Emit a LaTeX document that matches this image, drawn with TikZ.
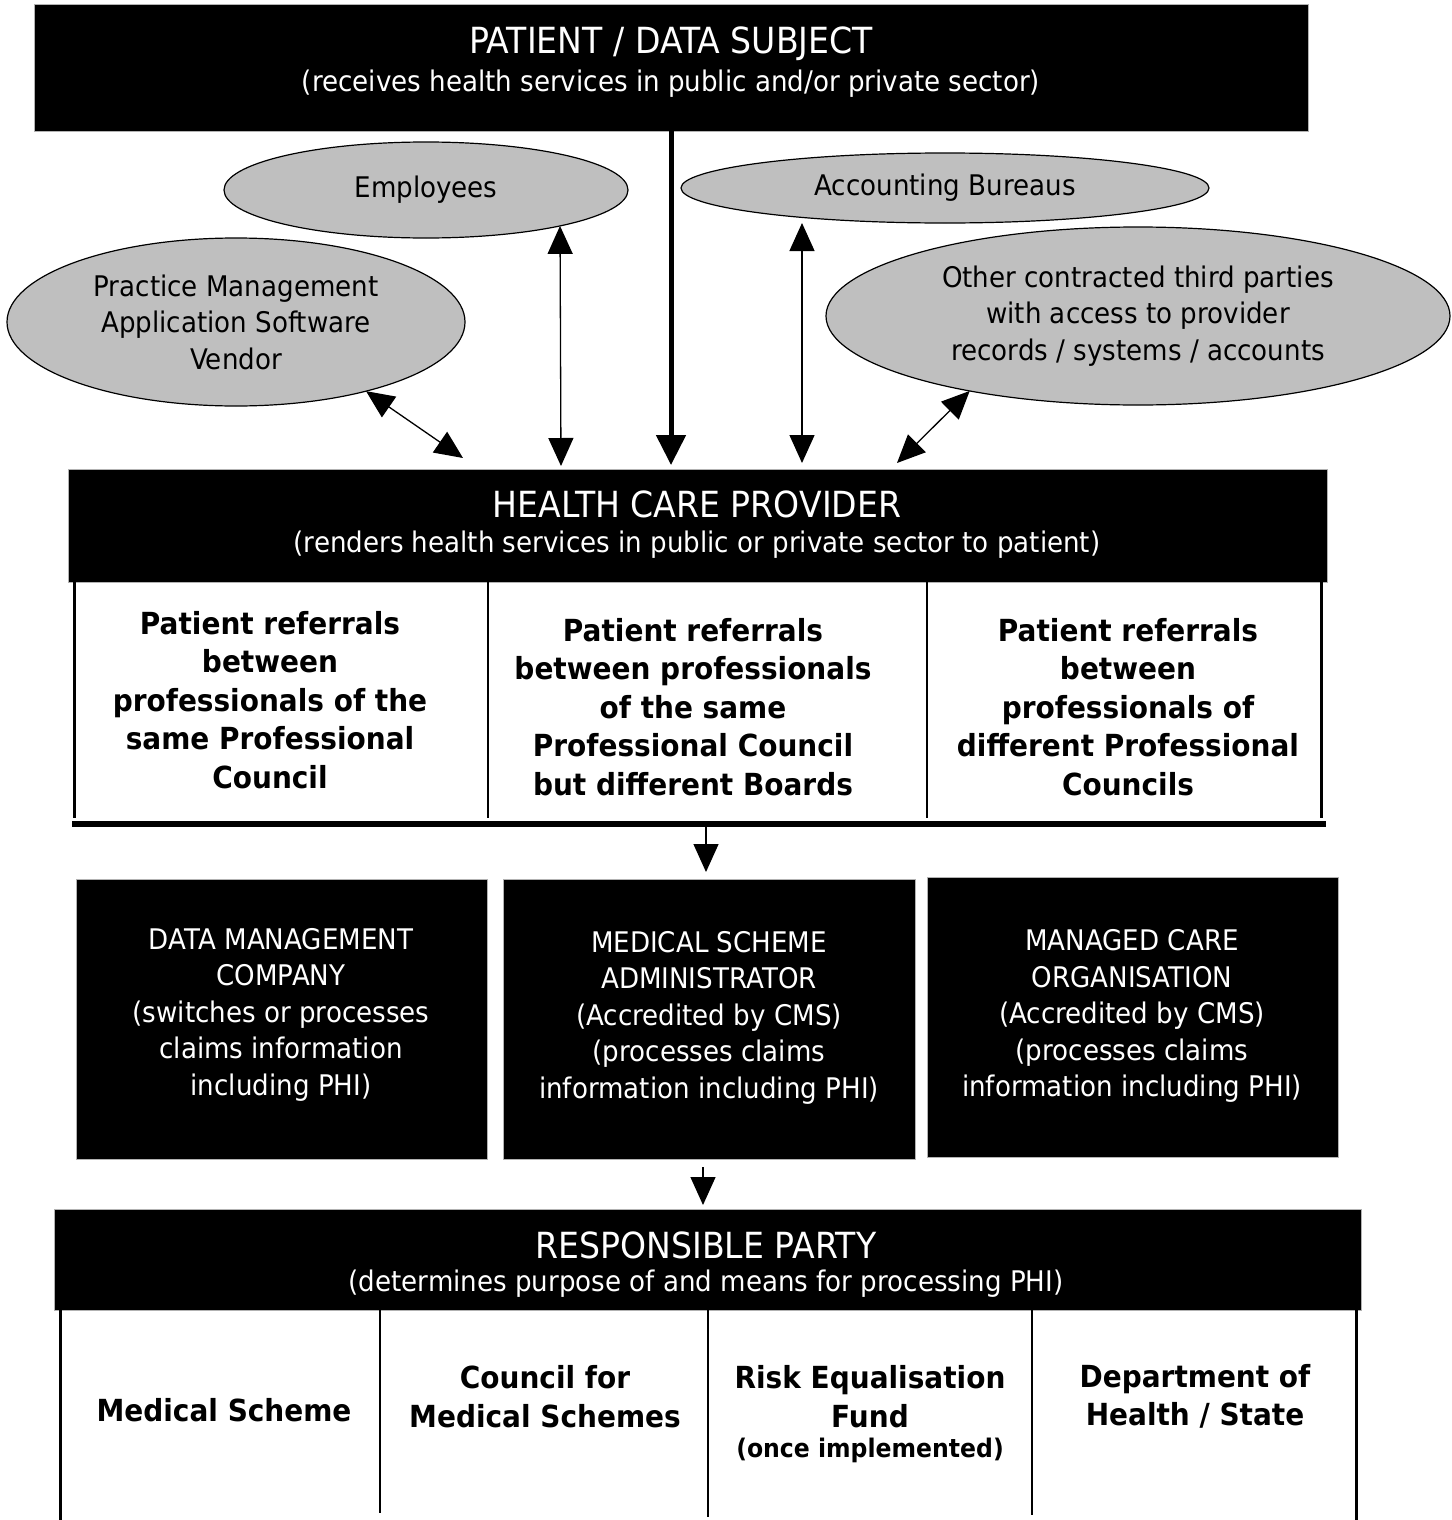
\documentclass[tikz,border=0pt]{standalone}
\usepackage{fontspec}
\setmainfont{DejaVu Sans}[FakeStretch=0.92]
\usetikzlibrary{arrows.meta,shapes.geometric,calc}
\begin{document}
\begin{tikzpicture}[x=1pt,y=-1pt,
  blackbox/.style={fill=black, draw=gray!60, line width=0.8pt, inner sep=0pt, outer sep=0pt},
  boxtext/.style={text=white, align=center, font=\fontsize{28.4}{36.5}\selectfont},
  titletext/.style={text=white, inner sep=0pt, font=\fontsize{36}{40}\selectfont},
  subtext/.style={text=white, inner sep=0pt, font=\fontsize{28.4}{36.5}\selectfont},
  oval/.style={ellipse, fill=black!25, draw=black, line width=1.2pt, align=center, inner sep=0pt, outer sep=0pt, font=\fontsize{28.4}{36.5}\selectfont},
  celltext/.style={align=center, inner sep=0pt, font=\bfseries\fontsize{30.4}{38.6}\selectfont},
  smallbold/.style={align=center, inner sep=0pt, font=\bfseries\fontsize{25.6}{30}\selectfont},
  thinarrow/.style={line width=1.3pt, arrows={{Triangle[width=25pt,length=28pt]}-{Triangle[width=25pt,length=28pt]}}},
  downarrow/.style={line width=1.3pt, arrows={-{Triangle[width=25pt,length=28pt]}}},
  thickarrow/.style={line width=5pt, arrows={-{Triangle[width=29pt,length=30pt]}}},
  border/.style={line width=3pt},
  divider/.style={line width=1.8pt}
]
\useasboundingbox (0,0) rectangle (1451,1520);

% ---------- Patient ----------
\node[blackbox, minimum width=1274pt, minimum height=127pt] (patient) at (671,67.5) {};
\node[titletext] (patientT) at (671,44) {PATIENT / DATA SUBJECT};
\node[subtext] (patientS) at (671,84) {(receives health services in public and/or private sector)};

% ---------- Ellipses ----------
\node[oval, minimum width=404pt, minimum height=96pt] (emp) at (426,190) {Employees};
\node[oval, minimum width=458pt, minimum height=168pt] (pm) at (236,322) {Practice Management\\Application Software\\Vendor};
\node[oval, minimum width=528pt, minimum height=70pt] (acc) at (945,188) {Accounting Bureaus};
\node[oval, minimum width=624pt, minimum height=178pt] (oth) at (1138,316) {Other contracted third parties\\with access to provider\\records / systems / accounts};

% ---------- Health care provider ----------
\node[blackbox, minimum width=1259pt, minimum height=113pt] (hcp) at (697.5,525.5) {};
\node[titletext] (hcpT) at (697,504) {HEALTH CARE PROVIDER};
\node[subtext] (hcpS) at (697,545) {(renders health services in public or private sector to patient)};

\draw[border] (74,582) -- (74,818);
\draw[divider] (488,582) -- (488,818);
\draw[divider] (927,582) -- (927,818);
\draw[border] (1321,582) -- (1321,818);
\node[fill=black, inner sep=0pt, outer sep=0pt, minimum width=1254pt, minimum height=6pt] (hcpbar) at (699,824) {};

\node[celltext] (c1) at (270,700) {Patient referrals\\between\\professionals of the\\same Professional\\Council};
\node[celltext] (c2) at (693,707) {Patient referrals\\between professionals\\of the same\\Professional Council\\but different Boards};
\node[celltext] (c3) at (1128,707) {Patient referrals\\between\\professionals of\\different Professional\\Councils};

% ---------- Middle boxes ----------
\node[blackbox, minimum width=411pt, minimum height=280pt] (dmc) at (281.5,1019) {};
\node[boxtext] (dmcT) at (281,1014.5) {DATA MANAGEMENT\\COMPANY\\(switches or processes\\claims information\\including PHI)};
\node[blackbox, minimum width=412pt, minimum height=280pt] (msa) at (709,1019) {};
\node[boxtext] (msaT) at (709,1017.5) {MEDICAL SCHEME\\ADMINISTRATOR\\(Accredited by CMS)\\(processes claims\\information including PHI)};
\node[blackbox, minimum width=411pt, minimum height=280pt] (mco) at (1132.5,1017) {};
\node[boxtext] (mcoT) at (1132,1016) {MANAGED CARE\\ORGANISATION\\(Accredited by CMS)\\(processes claims\\information including PHI)};

% ---------- Responsible party ----------
\node[blackbox, minimum width=1307pt, minimum height=101pt] (rp) at (707.5,1259.5) {};
\node[titletext] (rpT) at (706,1245) {RESPONSIBLE PARTY};
\node[subtext] (rpS) at (706,1284) {(determines purpose of and means for processing PHI)};

\draw[border] (60,1310) -- (60,1520);
\draw[divider] (380,1310) -- (380,1513);
\draw[divider] (708,1310) -- (708,1517);
\draw[divider] (1032,1310) -- (1032,1515);
\draw[border] (1356,1310) -- (1356,1520);

\node[celltext] (r1) at (224,1410) {Medical Scheme};
\node[celltext] (r2) at (545,1396.5) {Council for\\Medical Schemes};
\node[celltext] (r3) at (870,1396.5) {Risk Equalisation\\Fund};
\node[smallbold] (r3b) at (870,1450) {(once implemented)};
\node[celltext] (r4) at (1195,1396.5) {Department of\\Health / State};

% ---------- Connectors ----------
\coordinate (pmtip) at (463,458);
\coordinate (othtip) at (897,463);
\coordinate (empx) at (561,466);
\coordinate (accx) at (802,463);
\coordinate (midtip) at (706,872);
\coordinate (rptip) at (703,1205);
\coordinate (msafrom) at (703,1167);
\coordinate (ptip) at (0,465);

\draw[thickarrow] (patient.south) -- (patient.south |- ptip);
\draw[thinarrow] (emp.345) -- (empx);
\draw[thinarrow] (acc.south -| accx) -- (accx);
\draw[thinarrow] (pm.332) -- (pmtip);
\draw[thinarrow] (oth.204) -- (othtip);
\draw[downarrow] (hcpbar.south -| midtip) -- (midtip);
\draw[downarrow] (msafrom) -- (rptip);
\end{tikzpicture}
\end{document}
